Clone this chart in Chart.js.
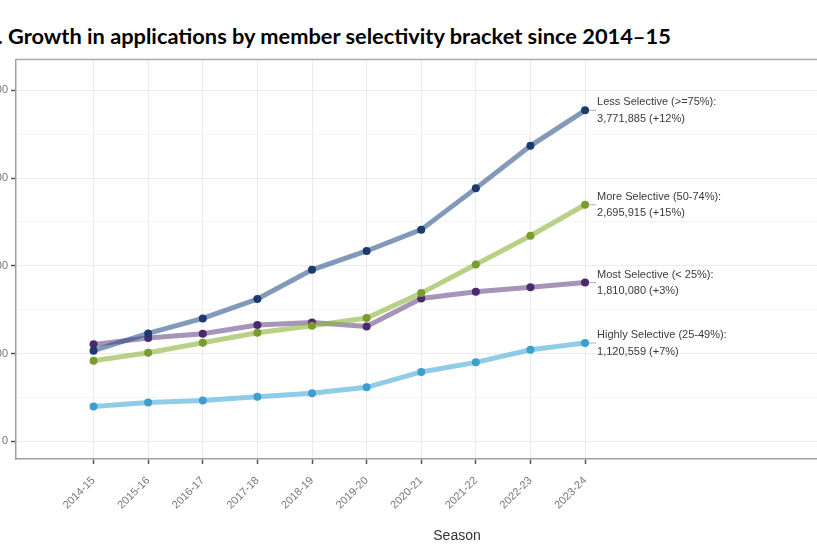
<!DOCTYPE html>
<html><head><meta charset="utf-8">
<script src="https://cdn.jsdelivr.net/npm/chart.js@4"></script>
<style>
html,body{margin:0;padding:0;background:#fff;overflow:hidden;width:817px;height:556px;position:relative;}
#title{position:absolute;left:8px;top:22px;font-family:Lato,"Open Sans",sans-serif;font-weight:700;font-size:21.8px;color:#000;white-space:nowrap;}
#title span{position:absolute;right:100%;}
#wrap{position:absolute;left:-74px;top:50px;width:980px;height:506px;}
</style></head><body>
<div id="title"><span>1.&nbsp;</span>Growth in applications by member selectivity bracket since 2014–15</div>
<div id="wrap"><canvas id="c"></canvas></div>
<script>
const seasons = ['2014-15','2015-16','2016-17','2017-18','2018-19','2019-20','2020-21','2021-22','2022-23','2023-24'];
const seriesNames = ['Less Selective (>=75%):','More Selective (50-74%):','Most Selective (< 25%):','Highly Selective (25-49%):'];
const lessSelective   = [1034000,1231000,1401000,1622000,1955000,2170000,2413000,2883000,3368000,3771885];
const moreSelective   = [ 920000,1011000,1125000,1239000,1318000,1406000,1690000,2015000,2344000,2695915];
const mostSelective   = [1106000,1178000,1227000,1326000,1356000,1310000,1629000,1705000,1757000,1810080];
const highlySelective = [ 398000, 443000, 466000, 508000, 549000, 617000, 792000, 901000,1045000,1120559];
const changeLabels = ['+12%','+15%','+3%','+7%'];
const yTicks = [0,500000,1000000,1500000,2000000,2500000,3000000,3500000,4000000];

const seriesValues = [lessSelective, moreSelective, mostSelective, highlySelective];
const lineColors  = ['rgba(40,80,135,0.58)','rgba(140,180,60,0.62)','rgba(85,50,120,0.52)','rgba(70,170,215,0.6)'];
const pointColors = ['#1c3a6e','#7a9c2e','#4a2a6c','#3d9fcd'];
const FONT = '"Liberation Sans", Arial, sans-serif';

const datasets = seriesValues.map((vals, k) => ({
  label: seriesNames[k],
  data: vals.map((v, i) => ({x: i, y: v})),
  borderColor: lineColors[k],
  borderWidth: 5,
  pointRadius: 4,
  pointBorderWidth: 0,
  pointBackgroundColor: pointColors[k],
  pointHoverRadius: 4,
  tension: 0,
  fill: false
}));

const labelPlugin = {
  id: 'endLabels',
  afterDraw(chart) {
    const ctx = chart.ctx;
    const ca = chart.chartArea;
    ctx.save();
    ctx.strokeStyle = '#aaaaaa';
    ctx.lineWidth = 1.5;
    ctx.beginPath();
    ctx.moveTo(ca.left, ca.top);
    ctx.lineTo(ca.right, ca.top);
    ctx.stroke();
    ctx.font = '11px ' + FONT;
    ctx.fillStyle = '#3a3a3a';
    ctx.textBaseline = 'middle';
    ctx.textAlign = 'left';
    chart.data.datasets.forEach((ds, k) => {
      const meta = chart.getDatasetMeta(k);
      const pt = meta.data[meta.data.length - 1];
      ctx.strokeStyle = '#b0b0b0';
      ctx.lineWidth = 1;
      ctx.beginPath();
      ctx.moveTo(pt.x + 4, pt.y);
      ctx.lineTo(pt.x + 11, pt.y);
      ctx.stroke();
      const last = seriesValues[k][seriesValues[k].length - 1];
      ctx.fillText(seriesNames[k], pt.x + 12, pt.y - 8);
      ctx.fillText(last.toLocaleString('en-US') + ' (' + changeLabels[k] + ')', pt.x + 12, pt.y + 8.5);
    });
    ctx.restore();
  }
};

new Chart(document.getElementById('c'), {
  type: 'line',
  data: { datasets },
  plugins: [labelPlugin],
  options: {
    responsive: true,
    maintainAspectRatio: false,
    animation: false,
    devicePixelRatio: 1,
    layout: { padding: { top: 8, right: 8, left: 0, bottom: 0 } },
    plugins: { legend: { display: false }, tooltip: { enabled: false } },
    scales: {
      x: {
        type: 'linear',
        position: 'bottom',
        min: -1.42,
        max: 14.73,
        afterBuildTicks: s => { s.ticks = seasons.map((_, i) => ({ value: i })); },
        afterFit: s => { s.height = 97; },
        ticks: {
          autoSkip: false,
          maxRotation: 45,
          minRotation: 45,
          padding: 10,
          color: '#777',
          font: { size: 11, family: FONT },
          callback: v => seasons[Math.round(v)] ?? ''
        },
        grid: { color: '#ebebeb', lineWidth: 1, tickLength: 5, tickColor: '#555', tickWidth: 1.5 },
        border: { color: '#a0a0a0', width: 1.5 },
        title: { display: true, text: 'Season', color: '#333', font: { size: 14, family: FONT }, padding: { top: 0, bottom: 11 } }
      },
      y: {
        min: -200000,
        max: 4350000,
        afterBuildTicks: s => { s.ticks = yTicks.map(v => ({ value: v })); },
        afterFit: s => { s.width = 90; },
        ticks: {
          padding: 3,
          color: '#777',
          font: { size: 11, family: FONT },
          callback: v => (v % 1000000 === 0 ? v.toLocaleString('en-US') : '')
        },
        grid: {
          lineWidth: 1,
          tickLength: 5,
          tickWidth: 1.5,
          color: c => (c.tick && c.tick.value % 1000000 === 0 ? '#ebebeb' : '#f5f5f5'),
          tickColor: c => (c.tick && c.tick.value % 1000000 === 0 ? '#555' : 'rgba(0,0,0,0)')
        },
        border: { color: '#a0a0a0', width: 1.5 }
      }
    }
  }
});
</script>
</body></html>
